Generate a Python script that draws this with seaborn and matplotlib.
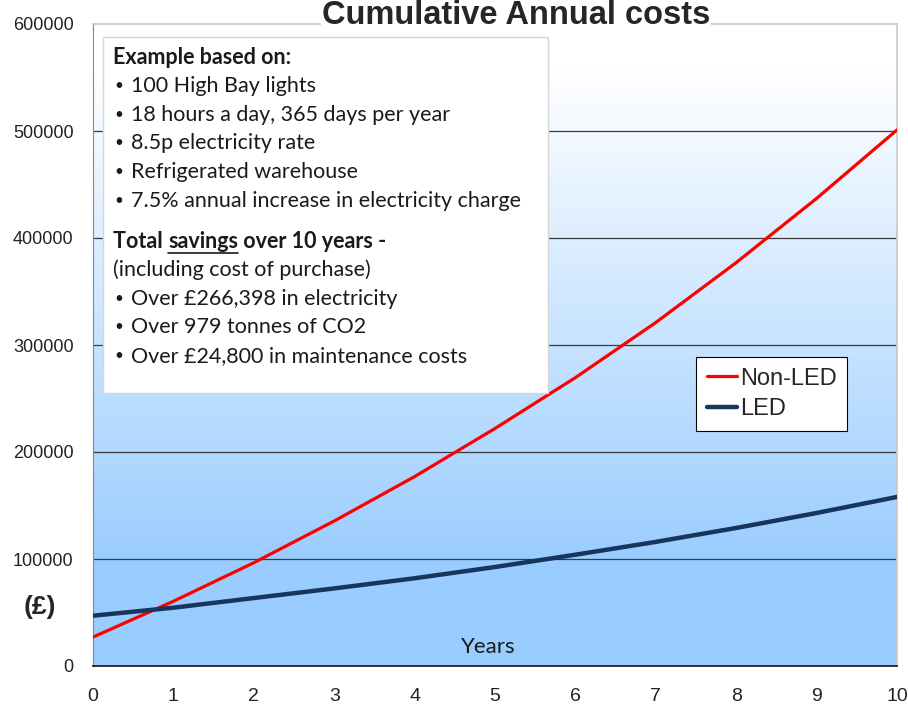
import numpy as np
import pandas as pd
import matplotlib
matplotlib.use("Agg")
import matplotlib.pyplot as plt
import seaborn as sns
from matplotlib.patches import Rectangle
from matplotlib.lines import Line2D

# values (GBP, cumulative)
years = [0, 1, 2, 3, 4, 5, 6, 7, 8, 9, 10]
non_led = [27000, 60500, 96500, 135500, 177000, 222000, 269500, 321000, 377000, 437000, 501000]
led = [47000, 54500, 63500, 72500, 82000, 92500, 104000, 116000, 129000, 143000, 158000]
series_names = ["Non-LED", "LED"]
y_ticks = [0, 100000, 200000, 300000, 400000, 500000, 600000]

box_head = "Example based on:"
box_bullets = ["100 High Bay lights",
               "18 hours a day, 365 days per year",
               "8.5p electricity rate",
               "Refrigerated warehouse",
               "7.5% annual increase in electricity charge"]
box_note = "(including cost of purchase)"
box_savings = ["Over \u00a3266,398 in electricity",
               "Over 979 tonnes of CO2",
               "Over \u00a324,800 in maintenance costs"]

df = pd.DataFrame({
    "year": years * 2,
    "cost": non_led + led,
    "type": [series_names[0]] * len(years) + [series_names[1]] * len(years),
})

sns.set_style("white")
plt.rcParams["font.family"] = ["Liberation Sans", "DejaVu Sans"]

fig = plt.figure(figsize=(9.08, 7.10), dpi=100)
ax = fig.add_axes([93 / 908, 1 - 666 / 710, 804 / 908, 642 / 710])

# gradient background: white at the top to light blue near the bottom
grad = np.clip((np.linspace(0, 1, 256) - 0.07) / 0.78, 0, 1)[:, None]
top = np.array([1.0, 1.0, 1.0])
bot = np.array([153, 204, 255]) / 255
img = top[None, None, :] * (1 - grad[:, :, None]) + bot[None, None, :] * grad[:, :, None]
ax.imshow(img, extent=[0, 10, 0, 600000], aspect="auto", origin="upper", zorder=0)

sns.lineplot(data=df, x="year", y="cost", hue="type",
             palette={"Non-LED": "#ff0000", "LED": "#17365d"},
             ax=ax, zorder=3, legend=False)
ax.lines[0].set_linewidth(2.3)
ax.lines[1].set_linewidth(3.2)

ax.set_xlim(0, 10)
ax.set_ylim(0, 600000)
ax.set_xticks(years)
ax.set_yticks(y_ticks)
ax.set_yticklabels([str(v) for v in y_ticks], fontsize=13, color="#222222")
ax.set_xticklabels([str(v) for v in years], fontsize=14, color="#222222")
ax.tick_params(axis="x", direction="out", length=6, pad=10, color="#555555")
ax.tick_params(axis="y", direction="out", length=6, pad=8, color="#555555")
ax.set_xlabel("")
ax.set_ylabel("")

for v in y_ticks[1:-1]:
    ax.axhline(v, color="#3a3a3a", lw=0.9, zorder=1)

for s in ["top", "right"]:
    ax.spines[s].set_color("#c8c8c8")
    ax.spines[s].set_linewidth(1.2)
ax.spines["left"].set_color("#888888")
ax.spines["bottom"].set_color("#111111")
ax.spines["bottom"].set_linewidth(1.2)

# title sitting on the top border
fig.text(516 / 908, 1 - 16 / 710, "Cumulative Annual costs", ha="center", va="center",
         fontsize=23.5, fontweight="bold",
         bbox=dict(facecolor="white", edgecolor="none", pad=1))

# legend
handles = [Line2D([], [], color="#ff0000", lw=2.3), Line2D([], [], color="#17365d", lw=3.2)]
leg = ax.legend(handles, series_names, loc="upper left",
                bbox_to_anchor=((696 - 93) / 804, (666 - 357) / 642), borderaxespad=0,
                fontsize=17, handlelength=1.3, handletextpad=0.1,
                borderpad=0.45, labelspacing=0.35, fancybox=False, framealpha=1,
                edgecolor="black")
leg.get_frame().set_linewidth(0.8)
leg.set_zorder(5)

# text box
def ax_y(py):
    return (666 - py) / 642

def ax_x(px):
    return (px - 93) / 804

ax.add_patch(Rectangle((ax_x(103), ax_y(393)), ax_x(548) - ax_x(103), ax_y(37) - ax_y(393),
                       transform=ax.transAxes, facecolor="white", edgecolor="#d6d6d6",
                       lw=1, zorder=4))
box_font = ["Lato", "DejaVu Sans"]
tx = dict(transform=ax.transAxes, va="center", fontsize=15.5, family=box_font,
          color="#1a1a1a", zorder=6)
bul = dict(tx, fontsize=11)

ax.text(ax_x(113), ax_y(57), box_head, fontweight="bold", **tx)
rows = [86, 115, 143, 172, 201]
for py, line in zip(rows, box_bullets):
    ax.text(ax_x(114), ax_y(py), "\u2022", **bul)
    ax.text(ax_x(131), ax_y(py), line, **tx)

t1 = ax.text(ax_x(113), ax_y(242), "Total ", fontweight="bold", **tx)
fig.canvas.draw()
r = fig.canvas.get_renderer()
b1 = t1.get_window_extent(r)
inv = ax.transAxes.inverted()
x2 = inv.transform((b1.x1, b1.y0))[0]
t2 = ax.text(x2, ax_y(242), "savings", fontweight="bold", **tx)
fig.canvas.draw()
b2 = t2.get_window_extent(r)
x3 = inv.transform((b2.x1, b2.y0))[0]
ax.text(x3, ax_y(242), " over 10 years -", fontweight="bold", **tx)
uy = (710 - 253) / 710
fig.add_artist(Line2D([b2.x0 / 908, b2.x1 / 908], [uy, uy], color="#1a1a1a", lw=1.2,
                      zorder=7))

ax.text(ax_x(113), ax_y(270), box_note, **tx)
for py, line in zip([299, 327, 356], box_savings):
    ax.text(ax_x(114), ax_y(py), "\u2022", **bul)
    ax.text(ax_x(131), ax_y(py), line, **tx)

# axis captions
fig.text(40 / 908, 1 - 607 / 710, "(\u00a3)", ha="center", va="center",
         fontsize=19, fontweight="bold")
ax.text(ax_x(488), ax_y(647), "Years", ha="center", va="center", fontsize=16,
        family=box_font, color="#1a1a1a", transform=ax.transAxes, zorder=6)

fig.savefig("out.png", dpi=100)
